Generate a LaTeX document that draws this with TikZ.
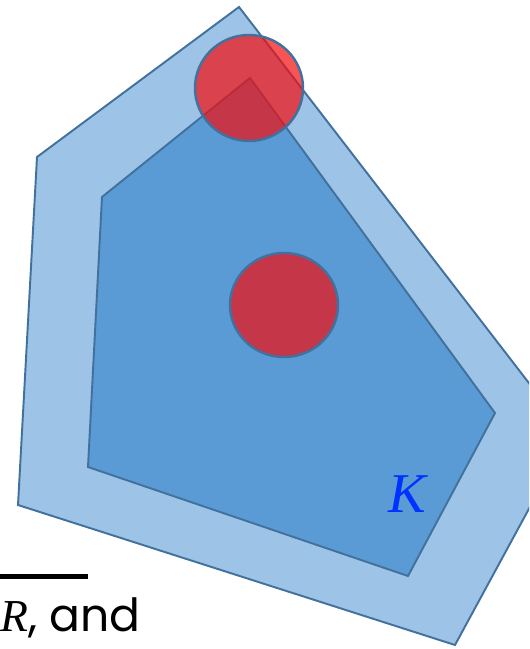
\documentclass[tikz,border=0pt]{standalone}
\usepackage{fontspec}
\newfontfamily\gothfont{Poppins}
\newfontfamily\serffont{Liberation Serif}
\usetikzlibrary{positioning}
\definecolor{figouter}{RGB}{157,195,230}
\definecolor{figinner}{RGB}{91,155,213}
\definecolor{figedge}{RGB}{65,113,156}
\definecolor{figdisc}{RGB}{244,12,14}
\definecolor{figlabel}{RGB}{0,51,255}
\tikzset{
  reg/.style  ={draw=figedge, line width=1.1pt, line join=miter},
  disc/.style ={draw=figedge, line width=1.4pt, fill=figdisc, fill opacity=0.7},
  lab/.style  ={font=\fontsize{32}{38}\serffont\itshape, text=figlabel, inner sep=0pt},
  txt/.style  ={font=\fontsize{26}{31}\selectfont, inner sep=0pt},
  bar/.style  ={draw=black, line width=0.1cm},
}

\begin{document}
\begin{tikzpicture}[x=0.02cm, y=-0.02cm]
  \useasboundingbox (0,0) rectangle (529,649);
  \clip (0,0) rectangle (529,649);
  % outer neighbourhood and the set K
  \draw[reg, fill=figouter] (239,7) -- (37,157) -- (18,505) -- (455,645) -- (569,435) -- cycle;
  \draw[reg, fill=figinner] (250,78) -- (102,197) -- (88,467) -- (408,576) -- (495,413) -- cycle;
  % balls
  \draw[disc] (249,88) circle [x radius=54, y radius=53];
  \draw[disc] (284,305) circle [x radius=54, y radius=52];
  \node[lab, anchor=base] (klab) at (407,512) {K};
  % text below
  \coordinate (barl) at (0,576);
  \coordinate (barr) at (88,576);
  \draw[bar] (barl) -- (barr);
  \node[txt, anchor=base west] (rlab) at (0,631) {{\serffont\itshape R}\gothfont, and};
\end{tikzpicture}
\end{document}
